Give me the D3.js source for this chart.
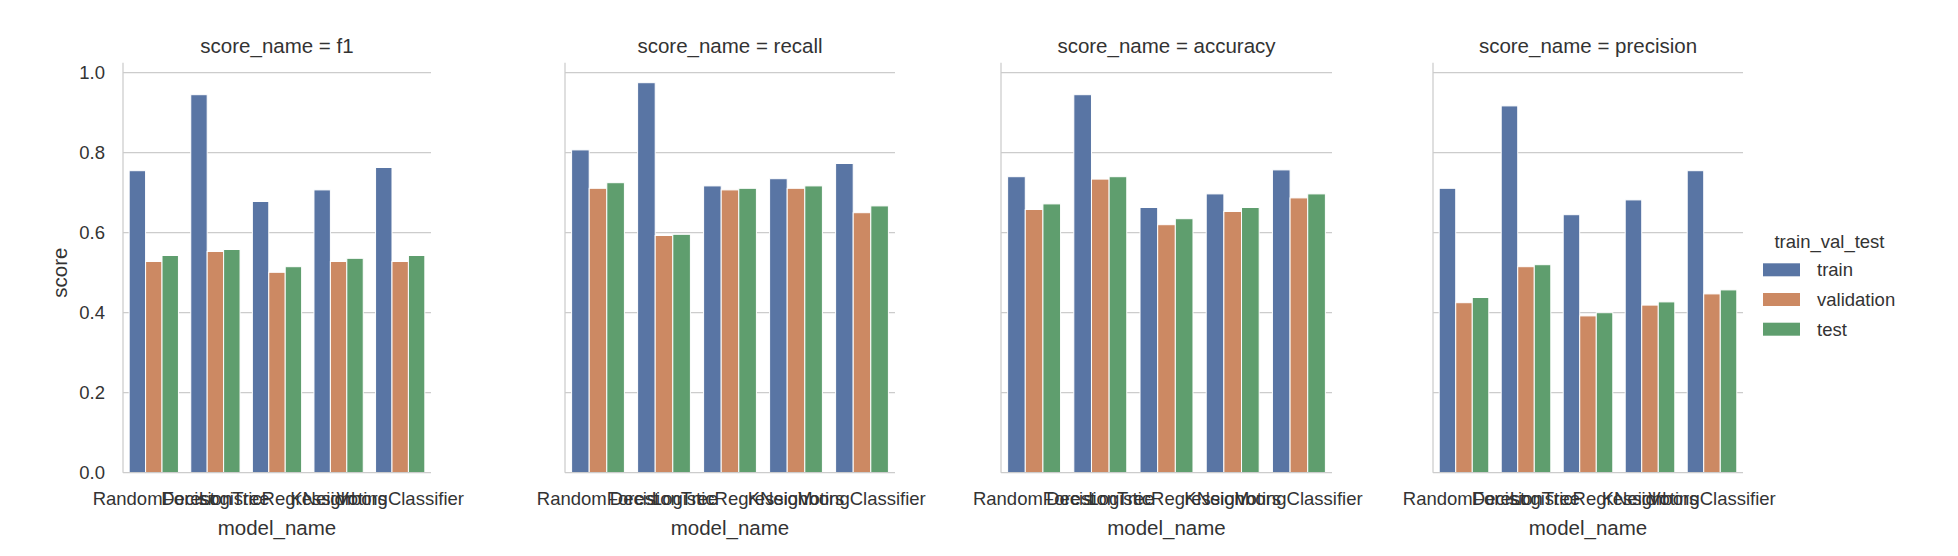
<!DOCTYPE html>
<html>
<head>
<meta charset="utf-8">
<script src="https://cdn.jsdelivr.net/npm/d3@7"></script>
<style>
  html, body { margin: 0; padding: 0; background: #fff; }
  svg { display: block; }
  text { font-family: "Liberation Sans", Arial, Helvetica, sans-serif; fill: #333333; }
</style>
</head>
<body>
<svg id="chart" width="1958" height="556"></svg>
<script>
// ---- data ----
const scoreNames = ["f1", "recall", "accuracy", "precision"];
const models = ["RandomForest", "DecisionTree", "LogisticRegression", "KNeighbors", "VotingClassifier"];
const splits = ["train", "validation", "test"];
const yTicks = [0.0, 0.2, 0.4, 0.6, 0.8, 1.0];

const f1Train      = [0.755, 0.945, 0.678, 0.707, 0.763];
const f1Val        = [0.528, 0.553, 0.501, 0.528, 0.528];
const f1Test       = [0.543, 0.558, 0.515, 0.536, 0.543];
const recallTrain  = [0.807, 0.975, 0.717, 0.735, 0.773];
const recallVal    = [0.711, 0.593, 0.707, 0.711, 0.650];
const recallTest   = [0.725, 0.596, 0.711, 0.717, 0.667];
const accTrain     = [0.740, 0.945, 0.663, 0.697, 0.757];
const accVal       = [0.658, 0.734, 0.620, 0.653, 0.687];
const accTest      = [0.672, 0.740, 0.635, 0.663, 0.697];
const precTrain    = [0.711, 0.917, 0.645, 0.682, 0.755];
const precVal      = [0.425, 0.515, 0.392, 0.419, 0.447];
const precTest     = [0.438, 0.520, 0.400, 0.427, 0.457];

const colors = ["#5975a4", "#cc8963", "#5f9e6e"];

const table = {
  f1:        [f1Train, f1Val, f1Test],
  recall:    [recallTrain, recallVal, recallTest],
  accuracy:  [accTrain, accVal, accTest],
  precision: [precTrain, precVal, precTest]
};

// ---- layout ----
const panelX = [[123, 431], [565, 895], [1001, 1332], [1433, 1743]];
const yBottom = 472.7, yTop = 62.7;
const y = d3.scaleLinear().domain([0, 1.025]).range([yBottom, yTop]);
const grid = "#cccccc";

const svg = d3.select("#chart");

scoreNames.forEach((sn, pi) => {
  const [x0, x1] = panelX[pi];
  const g = svg.append("g");
  const x = d3.scaleBand().domain(models).range([x0, x1]).paddingInner(0.2).paddingOuter(0.1);
  const xs = d3.scaleBand().domain(splits).range([0, x.bandwidth()]).padding(0);

  g.selectAll("line.grid").data(yTicks.filter(t => t > 0)).join("line")
    .attr("x1", x0).attr("x2", x1)
    .attr("y1", d => y(d)).attr("y2", d => y(d))
    .attr("stroke", grid).attr("stroke-width", 1.25);

  splits.forEach((sp, si) => {
    g.selectAll("rect.s" + si).data(models).join("rect")
      .attr("x", m => x(m) + xs(sp))
      .attr("width", xs.bandwidth())
      .attr("y", (m, i) => y(table[sn][si][i]))
      .attr("height", (m, i) => y(0) - y(table[sn][si][i]))
      .attr("fill", colors[si])
      .attr("stroke", "#fff").attr("stroke-width", 1);
  });

  g.append("line").attr("x1", x0).attr("x2", x0).attr("y1", yTop).attr("y2", yBottom)
    .attr("stroke", grid).attr("stroke-width", 1.25);
  g.append("line").attr("x1", x0).attr("x2", x1).attr("y1", yBottom).attr("y2", yBottom)
    .attr("stroke", grid).attr("stroke-width", 1.25);

  const xAxis = d3.axisBottom(x).tickSize(0).tickPadding(0);
  const ax = g.append("g").attr("transform", `translate(0,${yBottom})`).call(xAxis);
  ax.select(".domain").remove();
  ax.selectAll("text").attr("y", 32).attr("dy", 0)
    .style("font-size", "18.5px").attr("fill", "#333333");

  g.append("text").attr("x", (x0 + x1) / 2).attr("y", 535)
    .attr("text-anchor", "middle").style("font-size", "20.5px").text("model_name");

  g.append("text").attr("x", (x0 + x1) / 2).attr("y", 53)
    .attr("text-anchor", "middle").style("font-size", "20.5px").text("score_name = " + sn);

  if (pi === 0) {
    const yAxis = d3.axisLeft(y).tickValues(yTicks).tickSize(0).tickPadding(18).tickFormat(d3.format(".1f"));
    const ay = g.append("g").attr("transform", `translate(${x0},0)`).call(yAxis);
    ay.select(".domain").remove();
    ay.selectAll("text").style("font-size", "18.5px").attr("fill", "#333333");
    g.append("text").attr("transform", `translate(67,${(yTop + yBottom) / 2 + 5}) rotate(-90)`)
      .attr("text-anchor", "middle").style("font-size", "20.5px").text("score");
  }
});

const lg = svg.append("g");
lg.append("text").attr("x", 1829.5).attr("y", 248).attr("text-anchor", "middle")
  .style("font-size", "18.5px").text("train_val_test");
splits.forEach((sp, i) => {
  const top = 263.3 + i * 29.7;
  lg.append("rect").attr("x", 1763).attr("y", top).attr("width", 37).attr("height", 13)
    .attr("fill", colors[i]);
  lg.append("text").attr("x", 1817).attr("y", top + 12.8)
    .style("font-size", "18.5px").text(sp);
});
</script>
</body>
</html>
